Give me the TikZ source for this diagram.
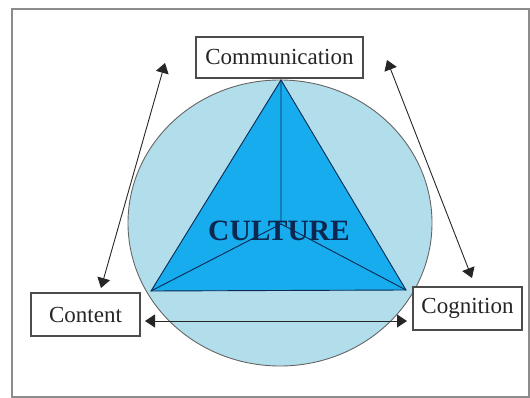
\documentclass[tikz,border=0pt]{standalone}
\usepackage{fontspec}
\setmainfont{Liberation Serif}
\usetikzlibrary{arrows.meta}

\definecolor{ringblue}{RGB}{178,222,236}
\definecolor{wedgeblue}{RGB}{22,172,238}
\definecolor{inkblue}{RGB}{12,40,80}

\tikzset{
  label box/.style={draw=black!70, line width=1.2pt, fill=white, rectangle,
    inner sep=0pt, font=\fontsize{23}{23}\selectfont, text=black!85},
  both ways/.style={{Triangle[length=10pt,width=13pt]}-{Triangle[length=10pt,width=13pt]}, line width=0.9pt, black!85}
}

\begin{document}
\begin{tikzpicture}[x=1pt,y=-1pt]
   \useasboundingbox (0,0) rectangle (530,398);
   \draw[black!45, line width=1.5pt] (12,9) rectangle (529,397);

   % circle and triangle
   \draw[fill=ringblue, draw=black!60, line width=0.9pt] (280,223) ellipse [x radius=152, y radius=143];
   \coordinate (top) at (281,80);
   \coordinate (left) at (151,291);
   \coordinate (right) at (406,290);
   \coordinate (mid) at (281,224);
   \draw[fill=wedgeblue, draw=inkblue, line width=0.9pt] (top) -- (left) -- (right) -- cycle;
   \draw[inkblue, line width=0.9pt] (top) -- (mid) (left) -- (mid) (right) -- (mid);
   \node[text=inkblue, font=\fontsize{29.5}{29.5}\selectfont\bfseries] (culture) at (279,231) {CULTURE};

   % the three labels
   \node[label box, minimum width=167, minimum height=41] (comm) at (279.5,57.5) {Communication};
   \node[label box, minimum width=109, minimum height=43] (cont) at (85.5,314.5) {Content};
   \node[label box, minimum width=109, minimum height=43] (cogn) at (467.5,308.5) {Cognition};

   % arrow ends
   \coordinate (lu) at (165,63);
   \coordinate (ld) at (101,288);
   \coordinate (ru) at (387,60);
   \coordinate (rd) at (472,278);
   \coordinate (hl) at (145,321);
   \coordinate (hr) at (407,321);

   \path[both ways]
    (ld) edge (lu)
    (rd) edge (ru)
    (hl) edge (hr);
\end{tikzpicture}
\end{document}
